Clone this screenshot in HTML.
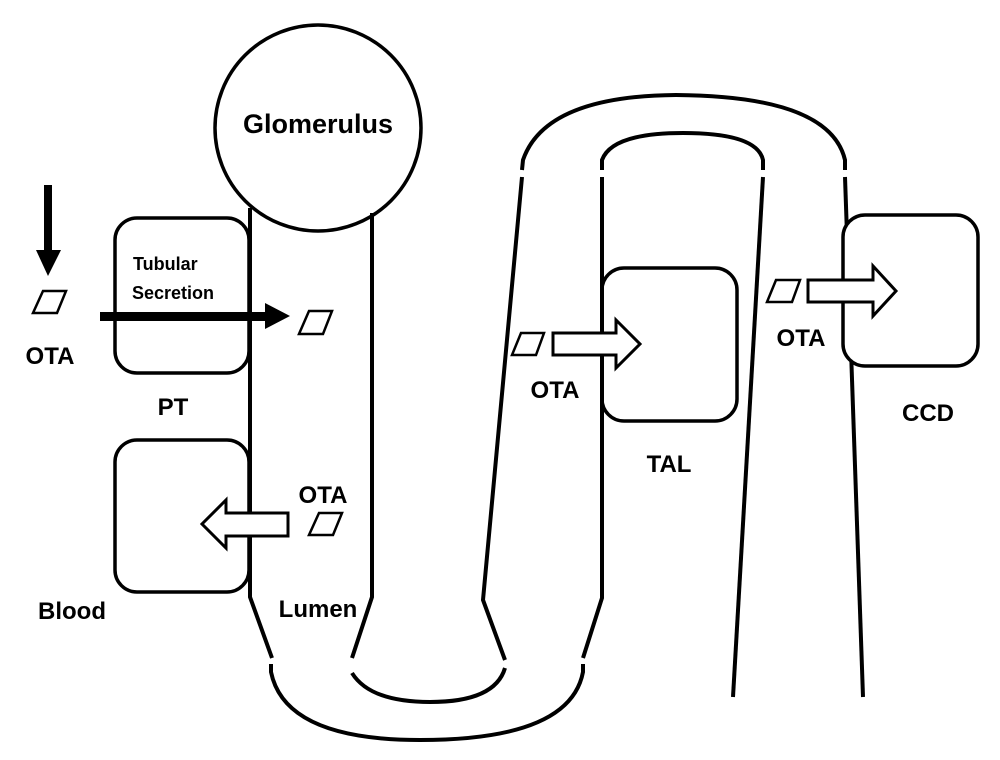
<!DOCTYPE html>
<html><head><style>
html,body{margin:0;padding:0;background:#fff;}
svg{display:block;}
text{font-family:"Liberation Sans",Arial,sans-serif;font-weight:bold;fill:#000;}
</style></head><body>
<svg width="1000" height="760" viewBox="0 0 1000 760" xmlns="http://www.w3.org/2000/svg">
<g fill="none" stroke="#000" stroke-width="4" stroke-linecap="butt">
<!-- glomerulus -->
<circle cx="318" cy="128" r="103" stroke-width="3.5"/>
<!-- PT tube -->
<polyline points="250,208 250,597 272,658"/>
<polyline points="372,213 372,597 352,658"/>
<!-- bottom arcs -->
<path d="M271,664 L271,672 Q285,740 420,740 Q570,740 583,672 L583,664"/>
<path d="M352,673 Q370,702 430,702 Q495,702 505,668"/>
<!-- loop ascending -->
<polyline points="505,660 483,600 522,177"/>
<polyline points="583,658 602,598 602,177"/>
<!-- top arcs -->
<path d="M522,170 L523,160 Q545,96 676,95 Q830,96 845,160 L845,170"/>
<path d="M602,170 L602,160 Q612,133 683,133 Q757,133 763,160 L763,170"/>
<!-- right limbs -->
<line x1="763" y1="177" x2="733" y2="697"/>
<line x1="845" y1="177" x2="863" y2="697"/>
</g>
<g fill="#fff" stroke="#000" stroke-width="3.5">
<rect x="115" y="218" width="134" height="155" rx="22"/>
<rect x="115" y="440" width="134" height="152" rx="22"/>
<rect x="602" y="268" width="135" height="153" rx="22"/>
<rect x="843" y="215" width="135" height="151" rx="22"/>
</g>
<!-- redraw tube lines over box edges -->
<g stroke="#000" stroke-width="4">
<line x1="250" y1="208" x2="250" y2="597"/>
<line x1="602" y1="177" x2="602" y2="598"/>
</g>
<!-- solid arrows -->
<g fill="#000">
<rect x="44" y="185" width="8" height="66"/>
<polygon points="36,250 61,250 48,276"/>
<rect x="100" y="312" width="168" height="9"/>
<polygon points="265,303 290,316 265,329"/>
</g>
<!-- hollow arrows -->
<g fill="#fff" stroke="#000" stroke-width="3">
<polygon points="288,513 226,513 226,500 202,524 226,548 226,536 288,536"/>
<polygon points="553,333 616,333 616,320 640,344 616,368 616,355 553,355"/>
<polygon points="808,280 873,280 873,266 896,291 873,316 873,302 808,302"/>
</g>
<!-- parallelograms -->
<g fill="#fff" stroke="#000" stroke-width="2.5">
<polygon points="43,291 66,291 57,313 33,313"/>
<polygon points="309,311 332,311 323,334 299,334"/>
<polygon points="319,513 342,513 333,535 309,535"/>
<polygon points="521,333 544,333 536,355 512,355"/>
<polygon points="776,280 800,280 792,302 767,302"/>
</g>
<text x="318" y="133" font-size="27" text-anchor="middle">Glomerulus</text>
<text x="133" y="270" font-size="18">Tubular</text>
<text x="132" y="299" font-size="18">Secretion</text>
<text x="50" y="364" font-size="24" text-anchor="middle">OTA</text>
<text x="173" y="415" font-size="24" text-anchor="middle">PT</text>
<text x="323" y="503" font-size="24" text-anchor="middle">OTA</text>
<text x="72" y="619" font-size="24" text-anchor="middle">Blood</text>
<text x="318" y="617" font-size="24" text-anchor="middle">Lumen</text>
<text x="555" y="398" font-size="24" text-anchor="middle">OTA</text>
<text x="669" y="472" font-size="24" text-anchor="middle">TAL</text>
<text x="801" y="346" font-size="24" text-anchor="middle">OTA</text>
<text x="928" y="421" font-size="24" text-anchor="middle">CCD</text>
</svg>
</body></html>
